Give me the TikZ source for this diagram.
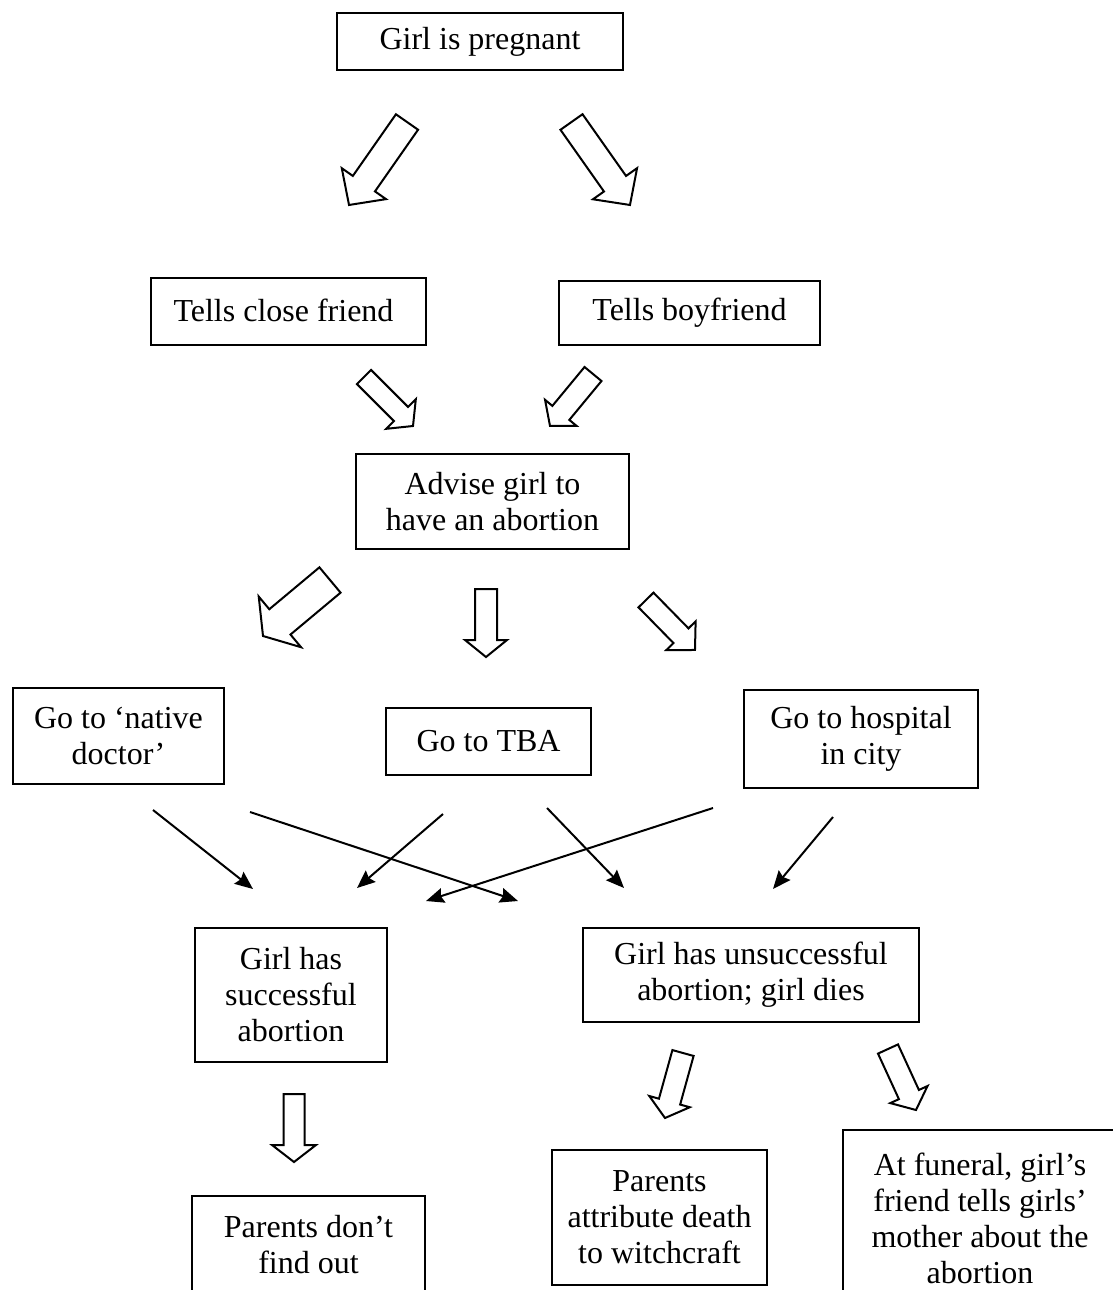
\documentclass[tikz,border=0pt]{standalone}
\usepackage{fontspec}
\setmainfont{Liberation Serif}
\usetikzlibrary{arrows.meta}
\tikzset{
  box/.style={draw, line width=1.1pt, align=center, inner sep=0pt},
  barrow/.style={draw, line width=1pt, line join=miter, fill=white},
  thinarr/.style={line width=1pt, -{Stealth[length=9pt,width=7.5pt,inset=1.2pt]}}
}
% block arrow: tail centre (#1,#2), tip (#3,#4), shaft width #5, head width #6, head length #7
\newcommand\blockarr[7]{%
  \pgfmathsetmacro\baang{atan2(#2-#4,#3-#1)}%
  \pgfmathsetmacro\balen{veclen(#3-#1,#4-#2)}%
  \pgfmathsetmacro\bashaft{\balen-#7}%
  \begin{scope}[shift={(#1,#2)},rotate=\baang]
    \draw[barrow] (0,-#5/2) -- (\bashaft,-#5/2) -- (\bashaft,-#6/2) -- (\balen,0)
      -- (\bashaft,#6/2) -- (\bashaft,#5/2) -- (0,#5/2) -- cycle;
  \end{scope}}
\begin{document}
\begin{tikzpicture}[x=0.5pt,y=-0.5pt,font=\fontsize{16}{18}\selectfont]
\useasboundingbox (0,0) rectangle (1113,1290);
\clip (0,0) rectangle (1113,1290);

% boxes
\node[box, minimum width=143pt, minimum height=28.5pt] (preg) at (480,41.5) {\raisebox{-1.5pt}{Girl is pregnant}};
\node[box, minimum width=137.5pt, minimum height=33.5pt] (friend) at (288.5,311.5) {\raisebox{1pt}{Tells close friend}\hspace*{5pt}};
\node[box, minimum width=130.5pt, minimum height=32pt] (boy) at (689.5,313) {\raisebox{1pt}{Tells boyfriend}};
\node[box, minimum width=136.5pt, minimum height=47.5pt] (advise) at (492.5,501.5) {Advise girl to\\have an abortion};
\node[box, minimum width=105.5pt, minimum height=48pt] (native) at (118.5,736) {Go to ‘native\\doctor’};
\node[box, minimum width=102.5pt, minimum height=33.5pt] (tba) at (488.5,741.5) {Go to TBA};
\node[box, minimum width=117pt, minimum height=49pt] (hosp) at (861,739) {Go to hospital\\in city};
\node[box, minimum width=96pt, minimum height=67pt] (succ) at (291,995) {Girl has\\successful\\abortion};
\node[box, minimum width=168pt, minimum height=47pt] (unsucc) at (751,975) {Girl has unsuccessful\\abortion; girl dies};
\node[box, minimum width=116.5pt, minimum height=49pt] (dont) at (308.5,1245) {Parents don’t\\find out};
\node[box, minimum width=107.5pt, minimum height=67.5pt] (witch) at (659.5,1217.5) {Parents\\attribute death\\to witchcraft};
\node[box, minimum width=137pt, minimum height=88pt] (funeral) at (980,1218) {At funeral, girl’s\\friend tells girls’\\mother about the\\abortion};

% block arrows
\blockarr{407}{122}{349}{205}{27}{54}{26}
\blockarr{571.5}{122}{630}{205}{27}{54}{26}
\blockarr{364}{377}{413}{426}{20}{42}{17}
\blockarr{593}{374}{550}{426}{22}{41}{17}
\blockarr{330}{580}{263}{636}{33}{66}{22}
\blockarr{486}{589}{486}{657}{22}{42}{17}
\blockarr{646}{600}{695}{650}{21}{41}{20}
\blockarr{294}{1094}{294}{1162}{21}{44}{17}
\blockarr{683}{1053}{665}{1118}{22}{42}{17}
\blockarr{888}{1049}{916}{1110}{22}{41}{17}

% thin arrows
\coordinate (n1s) at (153,810); \coordinate (n1e) at (253,889);
\coordinate (n2s) at (250,812); \coordinate (n2e) at (518,901);
\coordinate (t1s) at (443,814); \coordinate (t1e) at (357,888);
\coordinate (t2s) at (547,808); \coordinate (t2e) at (624,888);
\coordinate (h1s) at (713,808); \coordinate (h1e) at (426,901);
\coordinate (h2s) at (833,817); \coordinate (h2e) at (773,889);
\draw[thinarr] (n1s) -- (n1e);
\draw[thinarr] (n2s) -- (n2e);
\draw[thinarr] (t1s) -- (t1e);
\draw[thinarr] (t2s) -- (t2e);
\draw[thinarr] (h1s) -- (h1e);
\draw[thinarr] (h2s) -- (h2e);
\end{tikzpicture}
\end{document}
